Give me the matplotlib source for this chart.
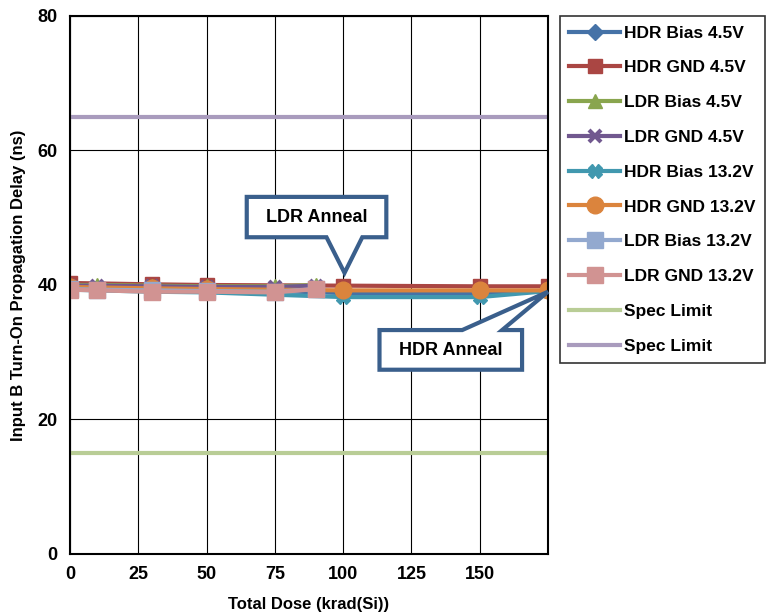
import matplotlib
matplotlib.use('Agg')
import matplotlib.pyplot as plt
from matplotlib.patches import Polygon

plt.rcParams['font.family'] = ['Liberation Sans', 'DejaVu Sans']
plt.rcParams['font.weight'] = 'bold'

# Dose steps (krad(Si)); the last point is the anneal
hdr_dose = [0, 30, 50, 100, 150, 175]
ldr_dose = [0, 10, 30, 50, 75, 90]

hdr_bias_45 = [39.8, 39.6, 39.4, 38.8, 38.7, 39.1]
hdr_gnd_45 = [40.3, 40.1, 40.0, 39.9, 39.8, 39.8]
ldr_bias_45 = [40.0, 40.0, 39.9, 39.8, 39.8, 40.0]
ldr_gnd_45 = [39.9, 39.9, 39.8, 39.7, 39.7, 39.9]
hdr_bias_132 = [39.3, 39.0, 38.9, 38.2, 38.2, 39.1]
hdr_gnd_132 = [39.7, 39.5, 39.4, 39.2, 39.2, 39.2]
ldr_bias_132 = [39.4, 39.3, 39.2, 39.1, 39.0, 39.4]
ldr_gnd_132 = [39.3, 39.2, 39.0, 39.0, 38.9, 39.4]

spec_low = 15
spec_high = 65

fig = plt.figure(figsize=(7.67, 6.15), dpi=100)
ax = fig.add_axes([0.0913, 0.0992, 0.6232, 0.8748])

lw = 3
ax.plot(hdr_dose, hdr_bias_45, color='#4572A7', marker='D', ms=8, lw=lw, label='HDR Bias 4.5V')
ax.plot(hdr_dose, hdr_gnd_45, color='#AA4643', marker='s', ms=10, lw=lw, label='HDR GND 4.5V')
ax.plot(ldr_dose, ldr_bias_45, color='#89A54E', marker='^', ms=10, lw=lw, label='LDR Bias 4.5V')
ax.plot(ldr_dose, ldr_gnd_45, color='#71588F', marker='x', ms=9, mew=3, lw=lw, label='LDR GND 4.5V')
ax.plot(hdr_dose, hdr_bias_132, color='#4198AF', marker='X', ms=10, lw=lw, label='HDR Bias 13.2V')
ax.plot(hdr_dose, hdr_gnd_132, color='#DB843D', marker='o', ms=12, lw=lw, label='HDR GND 13.2V')
ax.plot(ldr_dose, ldr_bias_132, color='#93A9CF', marker='s', ms=11, lw=lw, label='LDR Bias 13.2V')
ax.plot(ldr_dose, ldr_gnd_132, color='#D19392', marker='s', ms=12, lw=lw, label='LDR GND 13.2V')
ax.axhline(spec_low, color='#B9CD96', lw=lw, label='Spec Limit')
ax.axhline(spec_high, color='#A99BBD', lw=lw, label='Spec Limit')

ax.set_xlim(0, 175)
ax.set_ylim(0, 80)
ax.set_xticks([0, 25, 50, 75, 100, 125, 150])
ax.set_yticks([0, 20, 40, 60, 80])
ax.tick_params(labelsize=13, length=0, pad=9)
for lab in ax.get_xticklabels() + ax.get_yticklabels():
    lab.set_fontweight('bold')
ax.grid(True, color='black', lw=0.8)
ax.set_axisbelow(True)
for s in ax.spines.values():
    s.set_linewidth(1.5)
ax.set_xlabel('Total Dose (krad(Si))', fontsize=12, fontweight='bold', labelpad=10)
ax.set_ylabel('Input B Turn-On Propagation Delay (ns)', fontsize=12, fontweight='bold', labelpad=8)

# callouts
edge = '#3A5F8C'
ldr_poly = [(64.7, 53.1), (115.8, 53.1), (115.8, 47.1), (107.0, 47.1), (100.5, 41.8),
            (93.9, 47.1), (64.7, 47.1)]
ax.add_patch(Polygon(ldr_poly, closed=True, fc='white', ec=edge, lw=3, zorder=5))
ax.text(90.2, 50.1, 'LDR Anneal', ha='center', va='center', fontsize=13, fontweight='bold', zorder=6)

hdr_poly = [(113.3, 33.3), (143.6, 33.3), (175, 39.0), (158.2, 33.3), (165.5, 33.3),
            (165.5, 27.4), (113.3, 27.4)]
ax.add_patch(Polygon(hdr_poly, closed=True, fc='white', ec=edge, lw=3, zorder=5, clip_on=False))
ax.text(139.4, 30.3, 'HDR Anneal', ha='center', va='center', fontsize=13, fontweight='bold', zorder=6)

leg = ax.legend(loc='upper left', bbox_to_anchor=(0.730, 0.974), bbox_transform=fig.transFigure,
                fontsize=12.5, frameon=True, fancybox=False, handlelength=2.9,
                labelspacing=1.13, borderpad=0.55, borderaxespad=0, handletextpad=0.25)
leg.get_frame().set_edgecolor('black')
leg.get_frame().set_linewidth(1.2)
for t in leg.get_texts():
    t.set_fontweight('bold')

fig.savefig('out.png', dpi=100)
